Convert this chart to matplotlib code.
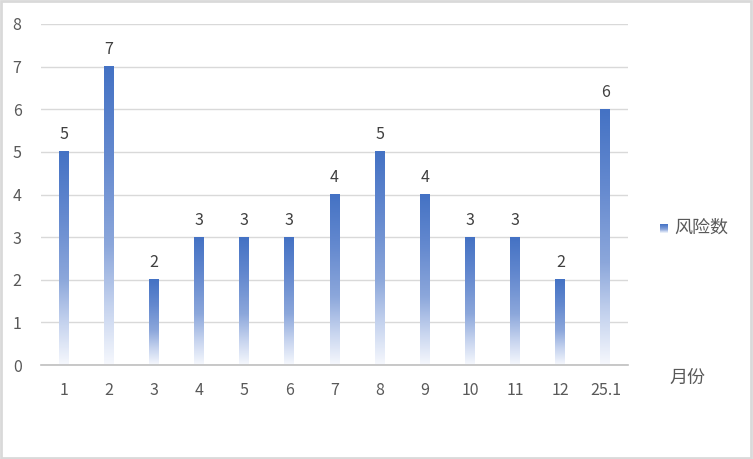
import numpy as np
import matplotlib.pyplot as plt
from matplotlib.colors import LinearSegmentedColormap
from matplotlib.patches import Rectangle

plt.rcParams['font.family'] = ['Noto Sans CJK SC', 'DejaVu Sans']

months = ["1", "2", "3", "4", "5", "6", "7", "8", "9", "10", "11", "12", "25.1"]
risks = [5, 7, 2, 3, 3, 3, 4, 5, 4, 3, 3, 2, 6]
series_name = "风险数"
x_title = "月份"

grad = LinearSegmentedColormap.from_list(
    "fade", [(0.0, "#F6F8FD"), (0.2, "#C4D2EE"), (0.4, "#8CA7DB"),
             (0.7, "#6489CF"), (1.0, "#4472C4")])

fig = plt.figure(figsize=(7.53, 4.59), dpi=100)
ax = fig.add_axes([41 / 753, 1 - 365 / 459, 587 / 753, 341 / 459])

x = np.arange(len(months))
bw = 0.22
bars = ax.bar(x, risks, width=bw, color="none", zorder=2)
ramp = np.linspace(0, 1, 256).reshape(-1, 1)
for b, v in zip(bars, risks):
    x0 = b.get_x()
    ax.imshow(ramp, cmap=grad, origin="lower", aspect="auto",
              extent=[x0, x0 + b.get_width(), 0, v], zorder=2,
              interpolation="bilinear")
    ax.text(b.get_x() + b.get_width() / 2, v + 0.2, str(v), ha="center",
            va="bottom", fontsize=11.5, color="#404040")

ax.set_xlim(-0.5, len(months) - 0.5)
ax.set_ylim(0, 8)
ax.set_yticks(range(0, 9))
ax.set_xticks(x)
ax.set_xticklabels(months)
ax.yaxis.grid(True, color="#D9D9D9", linewidth=1)
ax.set_axisbelow(True)
for s in ["top", "right", "left"]:
    ax.spines[s].set_visible(False)
ax.spines["bottom"].set_color("#BFBFBF")
ax.spines["bottom"].set_linewidth(1.2)
ax.tick_params(axis="both", length=0, labelsize=11.5, labelcolor="#595959")
ax.tick_params(axis="x", pad=12)
ax.tick_params(axis="y", pad=14)

# legend with gradient swatch
lx, ly = 660 / 753, 1 - 228 / 459
sw = fig.add_axes([lx, ly - 5 / 459, 8 / 753, 9 / 459])
sw.imshow(ramp, cmap=grad, origin="lower", aspect="auto")
sw.set_axis_off()
fig.text(lx + 14 / 753, ly, series_name, fontsize=13, color="#595959", va="center")
fig.text(687 / 753, 1 - 378 / 459, x_title, ha="center", va="center",
         fontsize=13, color="#595959")

fig.add_artist(Rectangle((0.001, 0.002), 0.997, 0.995, transform=fig.transFigure,
                         fill=False, edgecolor="#D9D9D9", linewidth=2))

fig.savefig("out.png", dpi=100)
